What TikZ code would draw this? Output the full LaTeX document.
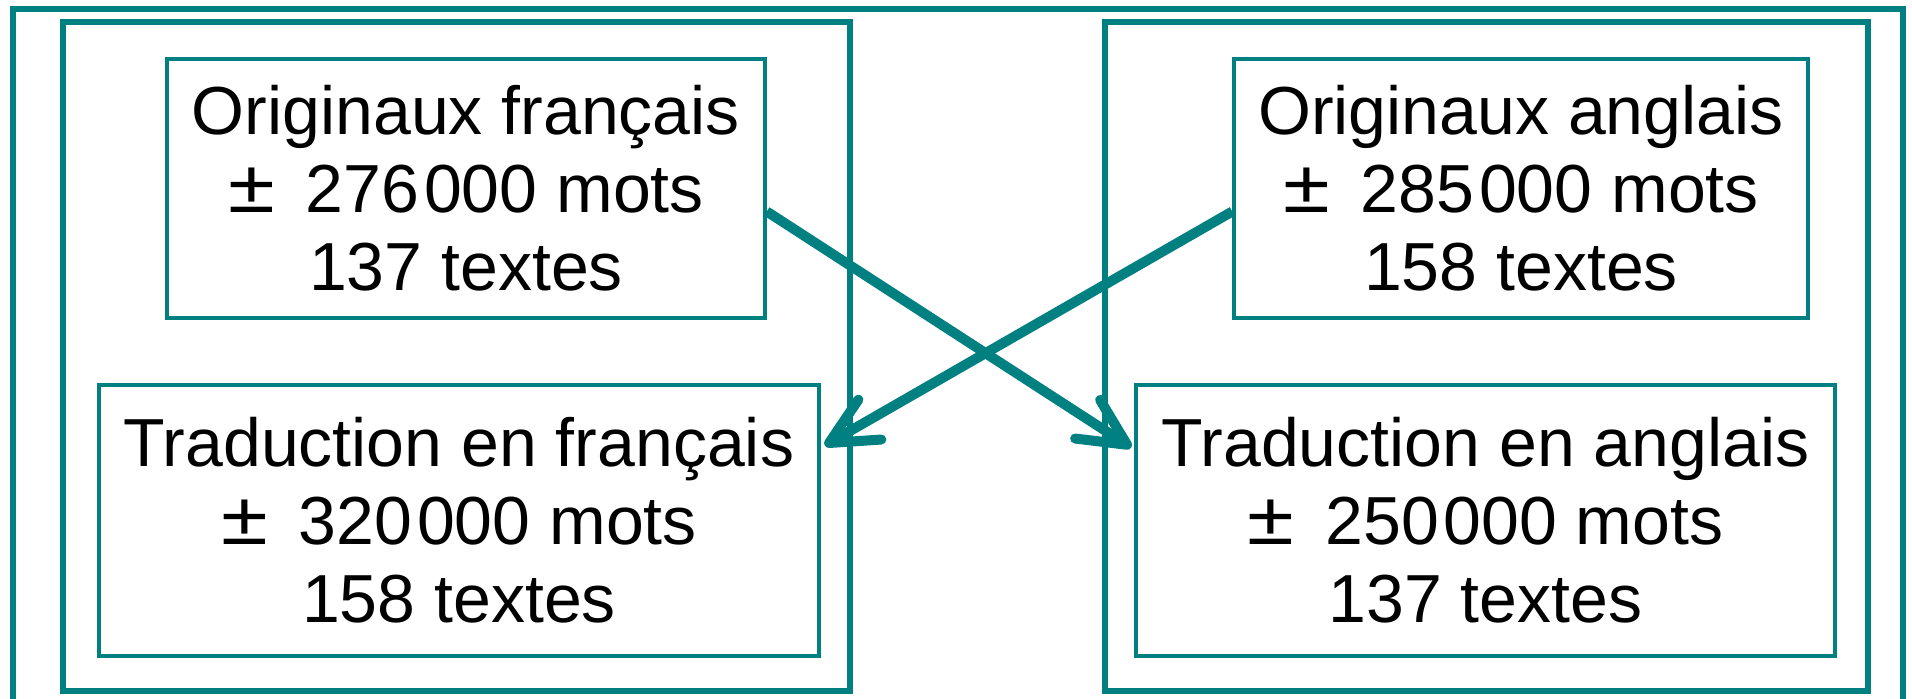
\documentclass[tikz,border=0pt]{standalone}
\usepackage{fontspec}
\setmainfont{Liberation Sans}
\usepackage{xcolor}
\definecolor{petrol}{HTML}{008080}
\usetikzlibrary{arrows.meta, calc}
\newcommand{\mille}{\kern0.07em}
\newcommand{\env}{\scalebox{1.25}[1.1]{±}\kern0.18em}

\begin{document}
\begin{tikzpicture}[x=0.1mm, y=-0.1mm,
  frame/.style={draw=petrol, line width=0.55mm},
  box/.style={draw=petrol, line width=0.35mm, align=center, inner sep=0pt,
              font=\fontsize{19.35}{22.2}\selectfont},
  arr/.style={-{Straight Barb[length=4.7mm, width=4.6mm, round]}, line width=1mm, draw=petrol}]
  \useasboundingbox (0,0) rectangle (1912,699);
  \draw[frame] (13,720) -- (13,9) -- (1903,9) -- (1903,720);
  \draw[frame] (63,22) rectangle (850,691);
  \draw[frame] (1105,22) rectangle (1868,691);
  \node[box, minimum width=59.8mm, minimum height=25.9mm] (fo) at (466,188.5)
    {Originaux français\\\env{} 276\mille000 mots\\137 textes};
  \node[box, minimum width=72mm, minimum height=27.1mm] (tf) at (459,520.5)
    {Traduction en français\\\env{} 320\mille000 mots\\158 textes};
  \node[box, minimum width=57.4mm, minimum height=25.9mm] (ao) at (1521,188.5)
    {Originaux anglais\\\env{} 285\mille000 mots\\158 textes};
  \node[box, minimum width=69.9mm, minimum height=27.1mm] (ta) at (1485.5,520.5)
    {Traduction en anglais\\\env{} 250\mille000 mots\\137 textes};
  \draw[arr] ($(fo.east)+(0,23)$) -- ($(ta.west)+(-3,-73)$);
  \draw[arr] ($(ao.west)+(0,23)$) -- ($(tf.east)+(4,-75)$);
\end{tikzpicture}
\end{document}
